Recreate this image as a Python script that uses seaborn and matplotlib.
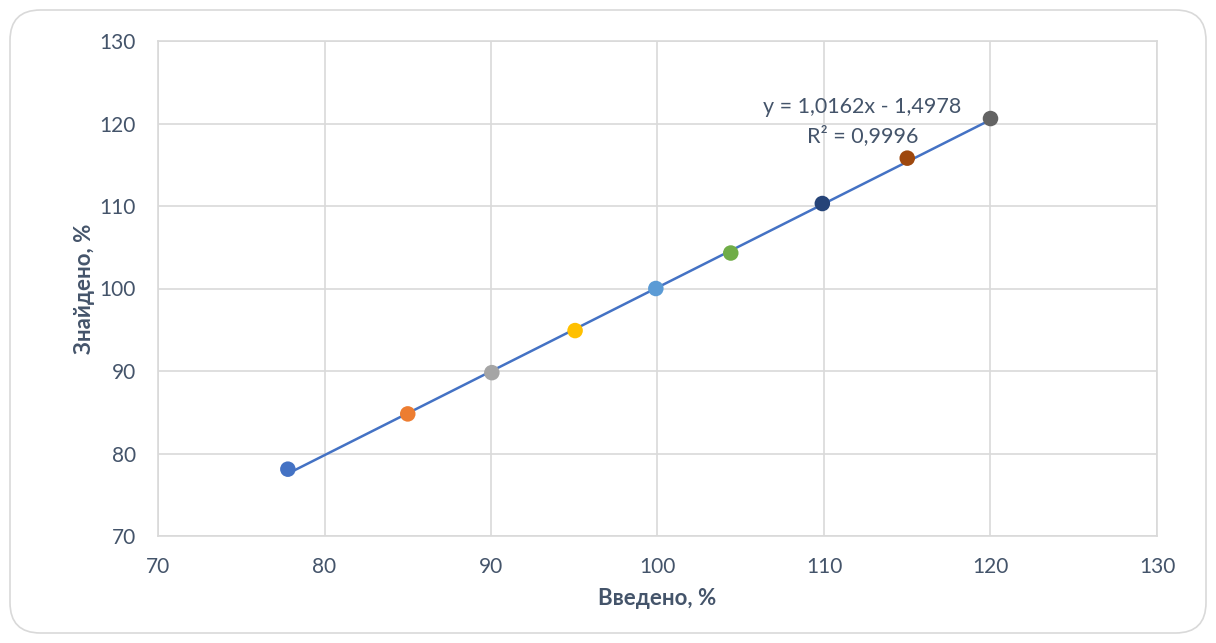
import matplotlib
matplotlib.use("Agg")
import matplotlib.pyplot as plt
from matplotlib.patches import FancyBboxPatch
import numpy as np
import pandas as pd
import seaborn as sns

# Measured data: introduced vs. found, %
introduced = [77.8, 85.0, 90.05, 95.05, 99.9, 104.4, 109.9, 115.0, 120.0]
found = [78.1, 84.8, 89.8, 94.9, 100.0, 104.3, 110.3, 115.8, 120.6]
point_colors = ["#4472C4", "#ED7D31", "#A5A5A5", "#FFC000", "#5B9BD5",
                "#70AD47", "#264478", "#9E480E", "#636363"]

# Linear trendline parameters
slope = 1.0162
intercept = -1.4978
r_squared = 0.9996

x_ticks = [70, 80, 90, 100, 110, 120, 130]
y_ticks = [70, 80, 90, 100, 110, 120, 130]

sns.set_theme(style="white")
plt.rcParams["font.family"] = ["Lato", "DejaVu Sans"]

text_color = "#44546A"
grid_color = "#D9D9D9"

fig = plt.figure(figsize=(12.16, 6.43), dpi=100)
ax = fig.add_axes([158 / 1216, 1 - 536 / 643, (1157 - 158) / 1216, (536 - 41) / 643])

# Rounded chart-area border
border = FancyBboxPatch((10 / 1216, 10 / 643), 1196 / 1216, 623 / 643,
                        boxstyle="round,pad=0,rounding_size=0.025",
                        transform=fig.transFigure, facecolor="white",
                        edgecolor="#D9D9D9", linewidth=1.2, zorder=-10,
                        mutation_aspect=1216 / 643)
fig.patches.append(border)

df = pd.DataFrame({"x": introduced, "y": found, "c": [str(i) for i in range(len(introduced))]})

# Trendline across the data range
xs = np.array([min(introduced), max(introduced)])
ax.plot(xs, slope * xs + intercept, color="#4472C4", linewidth=1.8, zorder=2)

sns.scatterplot(data=df, x="x", y="y", hue="c", palette=point_colors,
                s=125, edgecolor="none", legend=False, ax=ax, zorder=3)

ax.set_xlim(70, 130)
ax.set_ylim(70, 130)
ax.set_xticks(x_ticks)
ax.set_yticks(y_ticks)
ax.grid(True, color=grid_color, linewidth=1.2)
ax.set_axisbelow(True)
for sp in ax.spines.values():
    sp.set_color(grid_color)
    sp.set_linewidth(1.2)
ax.tick_params(axis="x", length=0, labelsize=15, labelcolor=text_color, pad=15)
ax.tick_params(axis="y", length=0, labelsize=15, labelcolor=text_color, pad=16)

ax.set_xlabel("Введено, %", fontsize=16, fontweight="bold", color=text_color, labelpad=8)
ax.set_ylabel("Знайдено, %", fontsize=16, fontweight="bold", color=text_color, labelpad=3)

eq_text = f"y = {slope:.4f}x - {abs(intercept):.4f}".replace(".", ",")
r2_text = f"R² = {r_squared:.4f}".replace(".", ",")
ax.text(112.3, 120.2, eq_text + "\n" + r2_text, ha="center", va="center",
        fontsize=15.5, color=text_color, linespacing=1.5)

fig.savefig("out.png", dpi=100, facecolor="white")
